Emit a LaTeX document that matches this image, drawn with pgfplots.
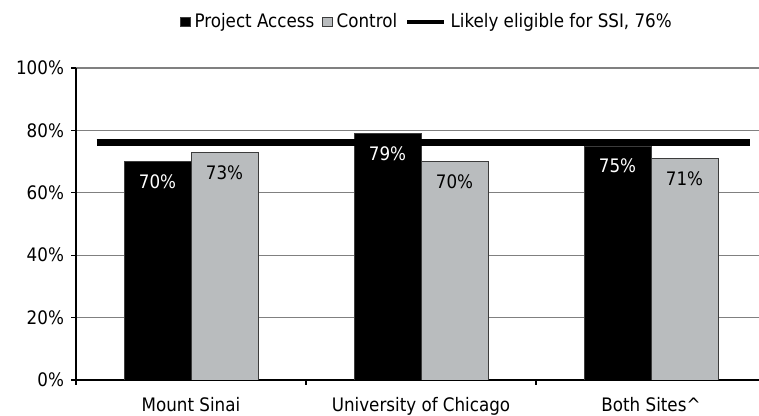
\documentclass[border=0pt]{standalone}
\usepackage{pgfplots}
\pgfplotsset{compat=1.18}
\usepackage{fontspec}
\setmainfont{DejaVu Sans Condensed}
\definecolor{ctrl}{RGB}{185,188,190}
\definecolor{edge}{RGB}{60,60,60}

\begin{document}
\begin{tikzpicture}
\useasboundingbox (0,0) rectangle (379.5pt,208pt);
\begin{axis}[
    at={(38pt,18pt)}, anchor=south west,
    scale only axis,
    width=345pt, height=156pt,
    font=\fontsize{9.3}{11}\selectfont,
    xmin=-0.5, xmax=2.5,
    ymin=0, ymax=100,
    axis x line*=bottom, axis y line*=left,
    axis line style={black, line width=0.6pt},
    xtick={0,1,2},
    xticklabels={Mount Sinai, University of Chicago, Both Sites\^{}},
    minor xtick={-0.5,0.5,1.5,2.5},
    major x tick style={draw=none},
    minor tick length=2.5pt,
    major tick length=2.5pt,
    tick align=outside,
    xticklabel style={yshift=-2.5pt},
    ytick={0,20,40,60,80,100},
    yticklabels={0\%,20\%,40\%,60\%,80\%,100\%},
    ymajorgrids=true,
    grid style={gray, line width=0.6pt},
    tick style={black, line width=0.6pt},
    legend columns=3,
    legend style={draw=none, fill=none, at={(0.5,1)}, anchor=center,
        xshift=3.5pt, yshift=23pt, font=\fontsize{9.3}{11}\selectfont,
        /tikz/every even column/.append style={column sep=2pt}},
]
\addplot[ybar, bar width=33.5pt, bar shift=-16.75pt, fill=black, draw=edge,
    legend image code/.code={\draw[fill=black,draw=edge] (0pt,-2.4pt) rectangle (4.8pt,2.4pt);},
    nodes near coords={\pgfmathprintnumber[assume math mode=true]{\pgfplotspointmeta}\%},
    every node near coord/.append style={anchor=north, xshift=-16.75pt, yshift=-3pt, text=white}]
    coordinates {(0,70) (1,79) (2,75)};
\addlegendentry{Project Access}
\addplot[ybar, bar width=33.5pt, bar shift=16.75pt, fill=ctrl, draw=edge,
    legend image code/.code={\draw[fill=ctrl,draw=edge] (0pt,-2.4pt) rectangle (4.8pt,2.4pt);},
    nodes near coords={\pgfmathprintnumber[assume math mode=true]{\pgfplotspointmeta}\%},
    every node near coord/.append style={anchor=north, xshift=16.75pt, yshift=-3pt, text=black}]
    coordinates {(0,73) (1,70) (2,71)};
\addlegendentry{Control}
\addplot[sharp plot, black, line width=3.5pt, no marks,
    legend image code/.code={\draw[black, line width=2.2pt] (0pt,0pt) -- (18.5pt,0pt);}]
    coordinates {(-0.41,76) (2.43,76)};
\addlegendentry{Likely eligible for SSI, 76\%}
\end{axis}
\end{tikzpicture}
\end{document}
